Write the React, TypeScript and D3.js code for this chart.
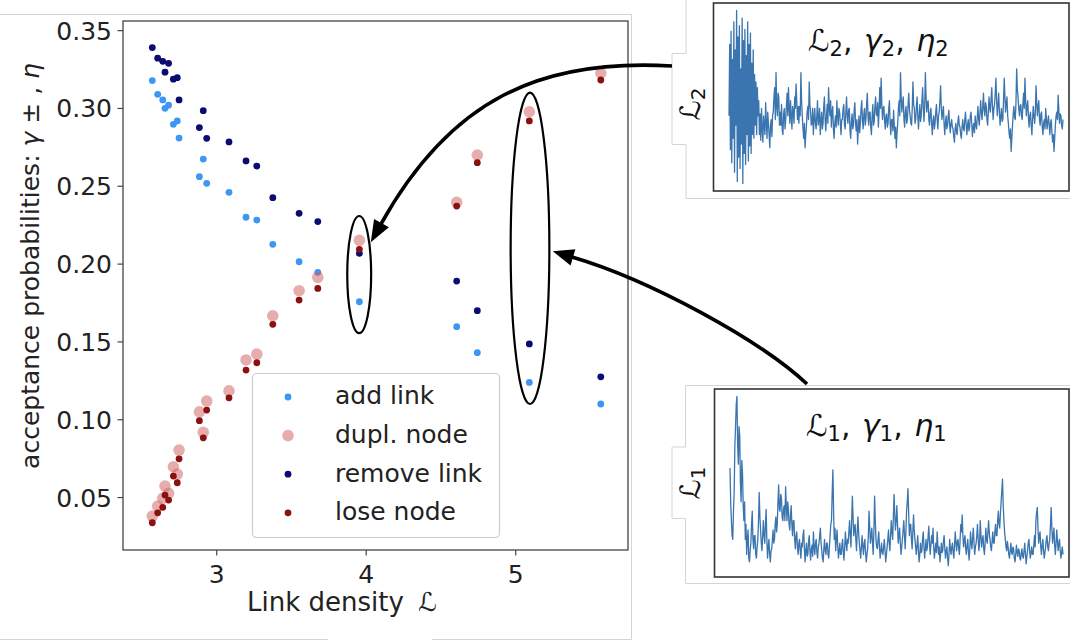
import React from 'react';
import * as d3 from 'd3';

// Link density values (x) shared by all four series
const linkDensity = [2.569, 2.605, 2.639, 2.654, 2.678, 2.71, 2.736, 2.748, 2.884, 2.91, 2.933, 3.082, 3.196, 3.268, 3.375, 3.551, 3.676, 3.954, 4.605, 4.743, 5.091, 5.569];
const addLink = [0.3179, 0.3091, 0.3055, 0.3001, 0.3021, 0.2898, 0.292, 0.281, 0.2562, 0.2675, 0.2519, 0.2461, 0.2301, 0.2283, 0.2127, 0.2015, 0.1947, 0.1758, 0.1598, 0.1431, 0.124, 0.1101];
const duplNode = [0.0381, 0.0445, 0.0495, 0.0574, 0.0527, 0.0698, 0.0651, 0.0805, 0.1051, 0.0919, 0.112, 0.1186, 0.1384, 0.1422, 0.1668, 0.1829, 0.1915, 0.2153, 0.2397, 0.2701, 0.2979, 0.3228];
const removeLink = [0.3391, 0.3323, 0.3303, 0.3233, 0.329, 0.3188, 0.3198, 0.3055, 0.2877, 0.2986, 0.2808, 0.2785, 0.2663, 0.263, 0.2427, 0.2326, 0.2273, 0.2069, 0.1891, 0.1701, 0.1487, 0.1276];
const loseNode = [0.0338, 0.0402, 0.0437, 0.0516, 0.0484, 0.0638, 0.0595, 0.0749, 0.0994, 0.0884, 0.1062, 0.1141, 0.1319, 0.1366, 0.1613, 0.1769, 0.1844, 0.2095, 0.2373, 0.2652, 0.292, 0.3183];

const xTicks = [3, 4, 5];
const yTicks = [0.05, 0.1, 0.15, 0.2, 0.25, 0.3, 0.35];

const seriesNames = ['add link', 'dupl. node', 'remove link', 'lose node'];

// Time series traces of the two insets (relative height, 0-100 of the panel)
const traceL2 = [
  40, 78, 22, 85, 15, 70, 28, 90, 10, 75, 35, 96, 5, 82, 18, 88, 12, 65, 25, 92, 4, 80, 20, 86, 14, 72, 30, 90, 16, 78, 24, 84, 20, 68, 30, 75, 28, 62, 35, 58, 30, 55, 40, 48,
  30, 41, 27, 44, 33, 26, 40, 35, 30, 47, 36, 28, 42, 36, 30, 23, 35, 38, 29, 40,
  42, 50, 55, 38, 63, 45, 40, 52, 50, 35, 42, 35, 46, 32, 30, 41, 44, 33, 38, 45,
  52, 40, 55, 44, 36, 48, 40, 33, 45, 42, 36, 50, 44, 57, 48, 38, 45, 36, 45, 40,
  63, 48, 40, 33, 28, 36, 23, 30, 35, 42, 45, 38, 58, 46, 42, 35, 36, 44, 30, 38,
  44, 36, 33, 40, 48, 35, 38, 44, 30, 37, 42, 33, 36, 45, 50, 38, 32, 40, 46, 36,
  55, 44, 40, 48, 34, 42, 45, 33, 28, 36, 40, 34, 48, 40, 35, 44, 42, 36, 30, 38,
  38, 44, 46, 35, 33, 42, 50, 40, 36, 43, 44, 32, 28, 37, 41, 33, 35, 43, 47, 36,
  32, 38, 25, 33, 40, 31, 36, 44, 48, 37, 33, 41, 44, 35, 38, 46, 52, 40, 35, 42,
  42, 34, 30, 40, 46, 35, 37, 45, 50, 41, 40, 47, 34, 42, 55, 44, 60, 46, 38, 44,
  45, 37, 33, 40, 41, 34, 36, 44, 48, 36, 30, 38, 38, 32, 43, 35, 28, 34, 23, 31,
  36, 44, 48, 40, 63, 50, 42, 47, 50, 38, 34, 42, 45, 36, 38, 46, 52, 43, 40, 36,
  35, 44, 58, 46, 44, 36, 38, 45, 50, 40, 33, 40, 46, 37, 40, 48, 55, 44, 37, 45,
  63, 50, 42, 47, 48, 38, 35, 42, 44, 36, 30, 37, 40, 33, 36, 42, 46, 38, 33, 40,
  42, 48, 56, 44, 38, 42, 45, 36, 30, 36, 40, 33, 35, 40, 43, 35, 31, 36, 38, 34,
  33, 29, 26, 33, 36, 31, 30, 37, 40, 35, 34, 30, 28, 34, 38, 33, 32, 38, 42, 35,
  30, 35, 38, 32, 34, 40, 42, 36, 29, 34, 36, 31, 40, 35, 33, 39, 45, 38, 35, 42,
  48, 41, 38, 45, 52, 43, 40, 47, 45, 38, 35, 42, 50, 44, 42, 49, 55, 45, 38, 44,
  46, 52, 60, 48, 40, 46, 52, 42, 35, 40, 44, 37, 38, 48, 60, 50, 42, 47, 50, 40,
  36, 31, 28, 33, 21, 28, 35, 41, 45, 39, 38, 47, 65, 54, 50, 44, 40, 45, 46, 40,
  38, 46, 52, 44, 60, 48, 40, 45, 48, 39, 34, 40, 42, 35, 30, 38, 45, 40, 36, 42,
  56, 47, 40, 45, 48, 38, 35, 41, 42, 34, 30, 36, 38, 33, 44, 38, 33, 37, 40, 35,
  30, 36, 38, 31, 26, 30, 21, 28, 35, 40, 42, 38, 51, 43, 36, 41, 40, 35, 33, 38,
];

const traceL1 = [
  58, 40, 30, 22, 20, 35, 45, 70, 80, 92, 96, 70, 60, 80, 75, 50, 40, 62, 55, 38,
  30, 40, 20, 28, 12, 20, 25, 10, 8, 14, 18, 28, 35, 20, 15, 22, 22, 12, 10, 16,
  20, 30, 45, 32, 25, 18, 14, 22, 30, 22, 18, 28, 36, 20, 10, 16, 20, 12, 8, 14,
  15, 20, 25, 18, 20, 28, 32, 24, 28, 40, 49, 36, 35, 44, 42, 32, 30, 36, 38, 30,
  48, 38, 30, 40, 36, 28, 25, 33, 38, 28, 22, 30, 30, 20, 15, 22, 24, 16, 12, 18,
  20, 14, 10, 18, 16, 22, 25, 15, 8, 14, 18, 11, 12, 19, 22, 14, 9, 15, 17, 11,
  24, 16, 12, 18, 20, 13, 10, 16, 18, 22, 26, 18, 14, 10, 8, 15, 20, 14, 12, 18,
  18, 12, 10, 16, 22, 28, 30, 45, 57, 35, 20, 26, 14, 20, 25, 16, 10, 14, 18, 12,
  12, 17, 20, 13, 9, 16, 24, 18, 14, 20, 18, 24, 30, 22, 16, 30, 43, 32, 22, 26,
  28, 20, 14, 24, 32, 24, 18, 14, 10, 16, 22, 16, 12, 18, 20, 13, 8, 12, 15, 22,
  35, 26, 18, 22, 26, 18, 12, 25, 43, 30, 20, 16, 15, 20, 24, 16, 10, 14, 18, 13,
  12, 16, 20, 14, 8, 12, 16, 20, 25, 18, 14, 22, 30, 24, 20, 32, 44, 33, 25, 30,
  38, 28, 18, 22, 26, 18, 12, 16, 20, 25, 30, 22, 15, 24, 35, 40, 47, 34, 22, 28,
  28, 20, 15, 24, 33, 25, 20, 16, 12, 17, 22, 14, 8, 12, 18, 13, 14, 20, 24, 16,
  10, 15, 20, 14, 16, 22, 27, 18, 12, 17, 22, 18, 26, 16, 10, 14, 18, 13, 24, 17,
  12, 16, 8, 12, 18, 13, 14, 19, 22, 15, 10, 14, 16, 10, 6, 12, 20, 15, 12, 16,
  18, 13, 10, 17, 24, 18, 14, 19, 20, 15, 12, 20, 28, 24, 33, 22, 16, 20, 22, 15,
  12, 17, 20, 13, 9, 15, 24, 18, 15, 21, 26, 18, 12, 16, 18, 22, 28, 20, 14, 18,
  30, 22, 16, 20, 22, 15, 12, 18, 26, 20, 18, 24, 30, 23, 20, 16, 14, 19, 24, 18,
  18, 24, 28, 22, 22, 30, 35, 28, 26, 34, 40, 46, 52, 38, 30, 24, 20, 16, 14, 19,
  16, 12, 10, 14, 18, 13, 12, 16, 15, 10, 8, 12, 17, 13, 11, 15, 14, 10, 9, 13,
  15, 11, 10, 14, 18, 12, 7, 11, 14, 18, 20, 14, 10, 13, 16, 12, 12, 17, 22, 16,
  30, 34, 37, 26, 18, 22, 24, 16, 12, 17, 20, 14, 10, 13, 16, 20, 22, 16, 14, 18,
  20, 28, 37, 26, 18, 22, 26, 17, 12, 18, 25, 19, 14, 18, 20, 14, 10, 13, 16, 12,
];

const FONT = 'DejaVu Sans, Liberation Sans, sans-serif';
const TXT = '#222';

type P = [number, number];

function Arrow({ start, c1, c2, end, head }: { start: P; c1: P; c2: P; end: P; head: number }) {
  const p = d3.path();
  p.moveTo(start[0], start[1]);
  p.bezierCurveTo(c1[0], c1[1], c2[0], c2[1], end[0], end[1]);
  const dx = end[0] - c2[0];
  const dy = end[1] - c2[1];
  const len = Math.hypot(dx, dy);
  const ux = dx / len;
  const uy = dy / len;
  const W = 8.5;
  const bx = end[0] - ux * 1;
  const by = end[1] - uy * 1;
  const tip = [end[0] + ux * head, end[1] + uy * head];
  const p1 = [bx - uy * W, by + ux * W];
  const p2 = [bx + uy * W, by - ux * W];
  return (
    <g>
      <path d={p.toString()} fill="none" stroke="#000" strokeWidth={3.6} />
      <path d={`M${tip[0]},${tip[1]}L${p1[0]},${p1[1]}L${p2[0]},${p2[1]}Z`} fill="#000" />
    </g>
  );
}

function Inset({ data, x0, x1, top, bottom, frameLeft, idx, labelY, textX, textY }: any) {
  const xs = d3.scaleLinear().domain([0, data.length - 1]).range([x0, x1]);
  const ys = d3.scaleLinear().domain([0, 100]).range([bottom, top]);
  const line = d3.line<number>().x((_, i) => xs(i)).y((d) => ys(d));
  return (
    <g>
      <rect x={frameLeft} y={top} width={1069 - frameLeft} height={bottom - top} fill="#fff" stroke="#333" strokeWidth={1.6} />
      <path d={line(data) || ''} fill="none" stroke="#3b75af" strokeWidth={1.3} strokeLinejoin="round" />
      <text x={textX} y={textY} fontFamily={FONT} fontSize={30} fill="#111">
        <tspan>ℒ</tspan>
        <tspan fontSize={21} dy={5}>{idx}</tspan>
        <tspan dy={-5}>, </tspan>
        <tspan fontStyle="italic" dx={2}>γ</tspan>
        <tspan fontSize={21} dy={5}>{idx}</tspan>
        <tspan dy={-5}>, </tspan>
        <tspan fontStyle="italic" dx={2}>η</tspan>
        <tspan fontSize={21} dy={5}>{idx}</tspan>
      </text>
      <text transform={`translate(700,${labelY}) rotate(-90)`} textAnchor="middle" fontFamily={FONT} fontSize={28} fill="#111">
        <tspan>ℒ</tspan>
        <tspan fontSize={20} dy={5}>{idx}</tspan>
      </text>
    </g>
  );
}

export default function App() {
  const x = d3.scaleLinear().domain([2.373, 5.751]).range([123, 628]);
  const y = d3.scaleLinear().domain([0.0163, 0.3562]).range([550, 21]);

  const ellipses = [
    { x0: 3.873, x1: 4.033, y0: 0.2309, y1: 0.1557 },
    { x0: 4.966, x1: 5.225, y0: 0.3102, y1: 0.1101 },
  ];

  const legendRows = [
    { name: seriesNames[0], color: '#3d97f2', r: 3.4, op: 1 },
    { name: seriesNames[1], color: '#cd5c5c', r: 5.8, op: 0.5 },
    { name: seriesNames[2], color: '#0b0b72', r: 3.4, op: 1 },
    { name: seriesNames[3], color: '#8b1010', r: 3.4, op: 1 },
  ];
  const series = [addLink, duplNode, removeLink, loseNode];

  return (
    <svg width={1070} height={641} style={{ position: 'absolute', left: 0, top: 0, background: '#fff' }}>
      {/* light outline of main figure */}
      <g stroke="#d4d4d4" strokeWidth={1} fill="none">
        <path d="M0,14.5H631.5V639.5" />
        <path d="M0,639.5H328M432,639.5H631.5" />
        <path d="M686,0V53.5H672V144.5H686V198.5H1070" />
        <path d="M1070,385.5H685.5V447H672V518.5H685.5V583.5H1070" />
      </g>

      {/* main axes frame */}
      <rect x={123} y={21} width={505} height={529} fill="#fff" stroke="#444" strokeWidth={1.3} />

      {/* y ticks */}
      {yTicks.map((t) => (
        <g key={t}>
          <line x1={117.5} x2={123} y1={y(t)} y2={y(t)} stroke="#444" strokeWidth={1.2} />
          <text x={112} y={y(t) + 9} textAnchor="end" fontFamily={FONT} fontSize={25} fill={TXT}>
            {t.toFixed(2)}
          </text>
        </g>
      ))}
      {/* x ticks */}
      {xTicks.map((t) => (
        <g key={t}>
          <line x1={x(t)} x2={x(t)} y1={550} y2={555.5} stroke="#444" strokeWidth={1.2} />
          <text x={x(t)} y={583} textAnchor="middle" fontFamily={FONT} fontSize={25} fill={TXT}>
            {t}
          </text>
        </g>
      ))}

      {/* axis labels */}
      <text x={247} y={611} fontFamily={FONT} fontSize={26} fill={TXT}>
        Link density <tspan dx={6}>ℒ</tspan>
      </text>
      <text transform="translate(39,266) rotate(-90)" textAnchor="middle" fontFamily={FONT} fontSize={25} fill={TXT}>
        acceptance probabilities: <tspan fontStyle="italic">γ</tspan> ± , <tspan fontStyle="italic">η</tspan>
      </text>

      {/* scatter series */}
      {series.map((vals, si) => (
        <g key={si}>
          {vals.map((v, i) => (
            <circle
              key={i}
              cx={x(linkDensity[i])}
              cy={y(v)}
              r={legendRows[si].r}
              fill={legendRows[si].color}
              fillOpacity={legendRows[si].op}
            />
          ))}
        </g>
      ))}

      {/* legend */}
      <g>
        <rect x={252.5} y={373.5} width={247} height={164} rx={4} fill="#fff" fillOpacity={0.8} stroke="#ccc" strokeWidth={1.2} />
        {legendRows.map((row, i) => (
          <g key={row.name}>
            <circle cx={288} cy={397 + i * 38.6} r={row.r} fill={row.color} fillOpacity={row.op} />
            <text x={335} y={404 + i * 38.8} fontFamily={FONT} fontSize={25} fill={TXT}>
              {row.name}
            </text>
          </g>
        ))}
      </g>

      {/* ellipses */}
      {ellipses.map((e, i) => (
        <ellipse
          key={i}
          cx={(x(e.x0) + x(e.x1)) / 2}
          cy={(y(e.y0) + y(e.y1)) / 2}
          rx={(x(e.x1) - x(e.x0)) / 2}
          ry={(y(e.y1) - y(e.y0)) / 2}
          fill="none"
          stroke="#000"
          strokeWidth={2.2}
        />
      ))}

      {/* insets */}
      <Inset data={traceL2} x0={729} x1={1063} top={3} bottom={191} frameLeft={713.5} idx="2" labelY={104} textX={808} textY={51} />
      <Inset data={traceL1} x0={730} x1={1063} top={389} bottom={577} frameLeft={714.5} idx="1" labelY={483} textX={806} textY={436} />

      {/* arrows */}
      <Arrow start={[672, 66]} c1={[540, 58]} c2={[450, 100]} end={[381, 224]} head={21} />
      <Arrow start={[807, 384]} c1={[760, 340]} c2={[650, 280]} end={[572, 257]} head={20} />
    </svg>
  );
}
